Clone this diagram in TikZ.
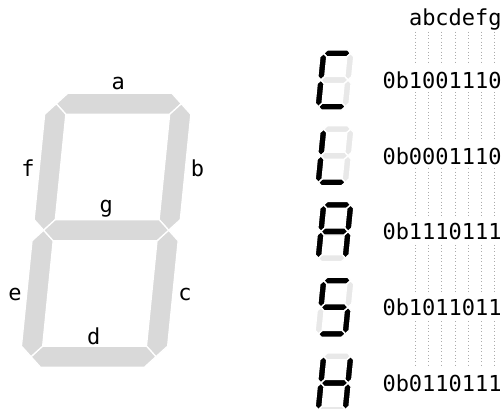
\documentclass[tikz,border=0pt]{standalone}
\usepackage{fontspec}
\newfontfamily\monofam{DejaVu Sans Mono}
\definecolor{bigseg}{HTML}{D9D9D9}
\definecolor{offseg}{HTML}{E8E8E8}
\definecolor{onseg}{HTML}{000000}
\definecolor{dotcol}{HTML}{ABABAB}
\newcommand{\hsegm}[2]{\filldraw[seg, fill=#1] (0,{#2}) -- (\ds,{#2+\ds}) -- ({\dw-\ds},{#2+\ds}) -- (\dw,{#2}) -- ({\dw-\ds},{#2-\ds}) -- (\ds,{#2-\ds}) -- cycle;}
\newcommand{\vsegm}[4]{\filldraw[seg, fill=#1] ({#2},{#3}) -- ({#2+\ds},{#3+\ds}) -- ({#2+\ds},{#4-\ds}) -- ({#2},{#4}) -- ({#2-\ds},{#4-\ds}) -- ({#2-\ds},{#3+\ds}) -- cycle;}
\newcommand{\digitsegs}[7]{%
  \hsegm{#1}{2*\dh}%
  \vsegm{#2}{\dw}{\dh}{2*\dh}%
  \vsegm{#3}{\dw}{0}{\dh}%
  \hsegm{#4}{0}%
  \vsegm{#5}{0}{0}{\dh}%
  \vsegm{#6}{0}{\dh}{2*\dh}%
  \hsegm{#7}{\dh}}
\tikzset{
  txt/.style={font={\monofam\fontsize{22}{26}\selectfont}, inner sep=0pt},
  lbl/.style={txt, anchor=base},
  row/.style={txt, anchor=base west, fill=white, text height=23pt, text depth=3.5pt},
  dotline/.style={draw=dotcol, line width=1pt, dash pattern=on 1pt off 2.33pt},
  smallseg/.style={seg/.style={draw=white, line width=1.4pt, line join=round}},
  bigsegs/.style={seg/.style={draw=white, line width=1.3pt, line join=round}}
}
\begin{document}
\begin{tikzpicture}[x=1pt,y=1pt]
\useasboundingbox (0,0) rectangle (502,408);
\clip (0,0) rectangle (502,408);
% big digit
\begin{scope}[shift={(31,51.3)}, xslant=0.1, bigsegs]
  \def\dw{125}\def\dh{126.5}\def\ds{10.6}
  \digitsegs{bigseg}{bigseg}{bigseg}{bigseg}{bigseg}{bigseg}{bigseg}
\end{scope}
\node[lbl] (la) at (118.3,318.7) {a};
\node[lbl] (lb) at (197.5,231.3) {b};
\node[lbl] (lc) at (185,108) {c};
\node[lbl] (ld) at (93.8,64) {d};
\node[lbl] (le) at (15,108) {e};
\node[lbl] (lf) at (28,231.3) {f};
\node[lbl] (lg) at (106.3,195.3) {g};
% small digits
\begin{scope}[shift={(318.3,301.35)}, xslant=0.1, smallseg]
  \def\dw{27}\def\dh{26.65}\def\ds{3.5}
  \digitsegs{onseg}{offseg}{offseg}{onseg}{onseg}{onseg}{offseg}
\end{scope}
\begin{scope}[shift={(318.3,225.6)}, xslant=0.1, smallseg]
  \def\dw{27}\def\dh{26.65}\def\ds{3.5}
  \digitsegs{offseg}{offseg}{offseg}{onseg}{onseg}{onseg}{offseg}
\end{scope}
\begin{scope}[shift={(318.3,149.85)}, xslant=0.1, smallseg]
  \def\dw{27}\def\dh{26.65}\def\ds{3.5}
  \digitsegs{onseg}{onseg}{onseg}{offseg}{onseg}{onseg}{onseg}
\end{scope}
\begin{scope}[shift={(318.3,74.1)}, xslant=0.1, smallseg]
  \def\dw{27}\def\dh{26.65}\def\ds{3.5}
  \digitsegs{onseg}{offseg}{onseg}{onseg}{offseg}{onseg}{onseg}
\end{scope}
\begin{scope}[shift={(318.3,-1.65)}, xslant=0.1, smallseg]
  \def\dw{27}\def\dh{26.65}\def\ds{3.5}
  \digitsegs{offseg}{onseg}{onseg}{offseg}{onseg}{onseg}{onseg}
\end{scope}
% dotted column guides
\foreach \k in {0,...,6} {
  \draw[dotline] ({415.4+13.245*\k},376.3) -- ({415.4+13.245*\k},39.7);
}
\node[txt, anchor=base west] (hdr) at (408.8,382) {abcdefg};
\node[row] (r1) at (382.3,319.7) {0b1001110};
\node[row] (r2) at (382.3,243.95) {0b0001110};
\node[row] (r3) at (382.3,168.2) {0b1110111};
\node[row] (r4) at (382.3,92.45) {0b1011011};
\node[row] (r5) at (382.3,16.7) {0b0110111};
\end{tikzpicture}
\end{document}
